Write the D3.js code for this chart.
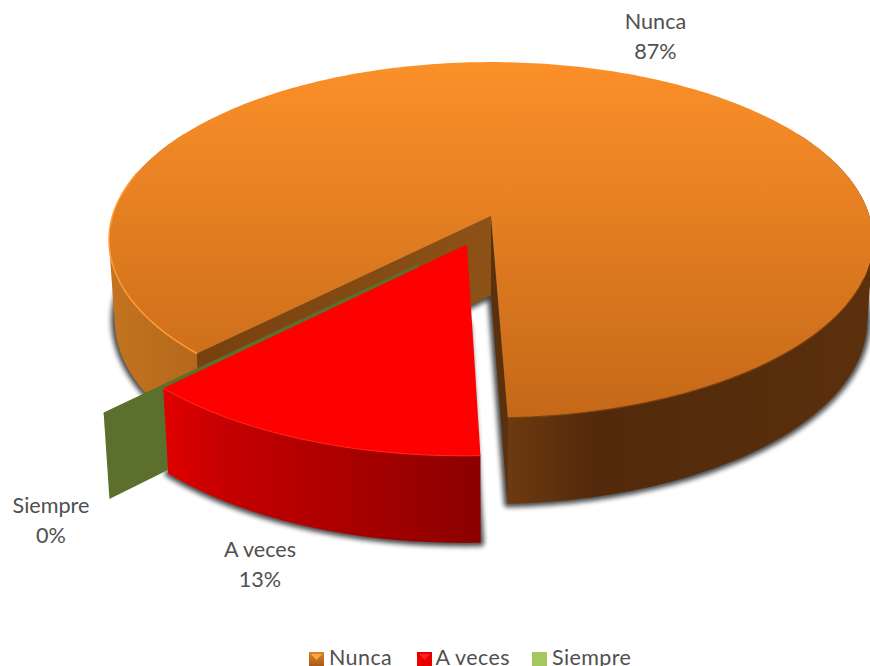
<!DOCTYPE html>
<html>
<head>
<meta charset="utf-8">
<script src="https://d3js.org/d3.v7.min.js"></script>
<style>
  html, body { margin: 0; padding: 0; background: #fff; overflow: hidden; }
  text { font-family: Lato, "Open Sans", sans-serif; fill: #505050; }
</style>
</head>
<body>
<div id="chart"></div>
<script>
const categories = ["Nunca", "A veces", "Siempre"];
const values = [87, 13, 0];
const percentLabels = ["87%", "13%", "0%"];

const width = 870, height = 666;
const deg = Math.PI / 180;

// perspective model of the disc, apex of the pie is the origin
const apex = { x: 491, y: 216 };
const Rx = 378.5, Ry = 174.7, persp = 0.135;

function project(u, v, z) {
  const k = 1 / (1 - persp * v);
  const s = 1 - 0.015 * z;
  return [apex.x + Rx * u * k * s, apex.y + Ry * v * k + z * (79 + 7 * v)];
}

const svg = d3.select("#chart").append("svg")
  .attr("width", width).attr("height", height)
  .style("display", "block");

const defs = svg.append("defs");

function gradient(id, x1, y1, x2, y2, stops) {
  const g = defs.append("linearGradient").attr("id", id)
    .attr("gradientUnits", "userSpaceOnUse")
    .attr("x1", x1).attr("y1", y1).attr("x2", x2).attr("y2", y2);
  stops.forEach(s => g.append("stop").attr("offset", s[0]).attr("stop-color", s[1]));
}

gradient("nuncaTop", 0, 62, 0, 420, [[0, "#fc9029"], [1, "#c46818"]]);
gradient("nuncaSide", 108, 0, 870, 0, [[0, "#c2741f"], [0.12, "#b5681c"], [0.52, "#6f3a10"], [0.64, "#522a0b"], [1, "#5a300d"]]);
gradient("nuncaWall", 198, 0, 491, 0, [[0, "#78400f"], [1, "#8c5217"]]);
gradient("redSide", 164, 0, 480, 0, [[0, "#e00000"], [0.2, "#c40000"], [1, "#8c0000"]]);

defs.append("filter").attr("id", "shadow")
  .attr("x", "-10%").attr("y", "-10%").attr("width", "120%").attr("height", "125%")
  .append("feGaussianBlur").attr("stdDeviation", 2.5);
defs.append("filter").attr("id", "soft").append("feGaussianBlur").attr("stdDeviation", 0.5);

const pie = d3.pie().sort(null)
  .startAngle(224.6 * deg).endAngle(584.6 * deg);
const slices = pie(values);

const line = d3.line();
const rimPt = (a, off, z) => project(Math.sin(a) + off[0], -Math.cos(a) + off[1], z);
const rimAngles = (a0, a1) => {
  const n = Math.max(2, Math.ceil(Math.abs(a1 - a0) / deg));
  return d3.range(n + 1).map(i => a0 + (a1 - a0) * i / n);
};
const sectorPath = (s, off, z) => line(
  [project(off[0], off[1], z)].concat(rimAngles(s.startAngle, s.endAngle).map(a => rimPt(a, off, z)))) + "Z";
const sidePath = (a0, a1, off) => line(d3.polygonHull(
  rimAngles(a0, a1).flatMap(a => [rimPt(a, off, 0), rimPt(a, off, 1)]))) + "Z";
const wallPath = (a, off) => line([
  project(off[0], off[1], 0), rimPt(a, off, 0), rimPt(a, off, 1), project(off[0], off[1], 1)
]) + "Z";
const rimPath = (a0, a1, off) => line(rimAngles(a0, a1).map(a => rimPt(a, off, 0)));

// explosion of each slice, in disc units
const offsets = [[0, 0], [-0.062, 0.158], [-0.186, 0.267]];

const nunca = slices[0], aVeces = slices[1], siempre = slices[2];

// the shadows are the blurred floor of the two slices, under everything else
svg.append("g").selectAll("path").data([nunca, aVeces]).join("path")
  .attr("d", (d, i) => sectorPath(d, offsets[i], 1))
  .attr("fill", "#000").attr("stroke", "#000").attr("stroke-width", 7)
  .attr("stroke-linejoin", "round").attr("opacity", 0.72)
  .attr("filter", "url(#shadow)");

// Nunca: the side in two pieces, left and right of the back of the disc
const gN = svg.append("g");
gN.append("path").attr("d", sidePath(nunca.startAngle, 300 * deg, offsets[0])).attr("fill", "url(#nuncaSide)");
gN.append("path").attr("d", sidePath(nunca.endAngle, 420 * deg, offsets[0])).attr("fill", "url(#nuncaSide)");
gN.append("path").attr("d", wallPath(nunca.endAngle, offsets[0])).attr("fill", "#5a300d");
gN.append("path").attr("d", wallPath(nunca.startAngle, offsets[0])).attr("fill", "url(#nuncaWall)");
gN.append("path").attr("d", sectorPath(nunca, offsets[0], 0)).attr("fill", "url(#nuncaTop)");
gN.append("path").attr("d", rimPath(nunca.startAngle, 285 * deg, offsets[0]))
  .attr("fill", "none").attr("stroke", "#ff9c38").attr("stroke-width", 1.5);
gN.append("path").attr("d", rimPath(nunca.endAngle, 470 * deg, offsets[0]))
  .attr("fill", "none").attr("stroke", "#7a420f").attr("stroke-width", 1.2)
  .attr("filter", "url(#soft)");

// Siempre, no width so only its cut face shows
const gS = svg.append("g");
gS.append("path").attr("d", wallPath(siempre.startAngle, offsets[2])).attr("fill", "#5b702c");
gS.append("path").attr("d", line([project(offsets[2][0], offsets[2][1], 0), rimPt(siempre.startAngle, offsets[2], 0)]))
  .attr("fill", "none").attr("stroke", "#5b702c").attr("stroke-width", 1);

// A veces
const gA = svg.append("g");
gA.append("path").attr("d", sidePath(aVeces.startAngle, aVeces.endAngle, offsets[1])).attr("fill", "url(#redSide)");
gA.append("path").attr("d", sectorPath(aVeces, offsets[1], 0)).attr("fill", "#ff0000");
gA.append("path").attr("d", rimPath(aVeces.startAngle, aVeces.endAngle, offsets[1]))
  .attr("fill", "none").attr("stroke", "#ff2a1a").attr("stroke-width", 1);

// data labels
const labelX = [655.5, 260, 51];
const labelY = [29, 557, 513];
svg.append("g").selectAll("g").data(categories).join("g")
  .each(function (d, i) {
    const g = d3.select(this);
    g.append("text").attr("x", labelX[i]).attr("y", labelY[i])
      .attr("text-anchor", "middle").attr("font-size", 21.6).text(d);
    g.append("text").attr("x", labelX[i]).attr("y", labelY[i] + 30)
      .attr("text-anchor", "middle").attr("font-size", 21.6).text(percentLabels[i]);
  });

// legend
const legendX = [309, 417, 532];
const legendTextX = [20, 18.5, 20];
const legN = defs.append("linearGradient").attr("id", "legN").attr("x1", 0).attr("y1", 0).attr("x2", 0).attr("y2", 1);
legN.append("stop").attr("offset", 0).attr("stop-color", "#d98428");
legN.append("stop").attr("offset", 1).attr("stop-color", "#a85c18");
const legendFill = ["url(#legN)", "#e60000", "#a5c95f"];
const triFill = ["#ffa63d", "#ff2020", null];

const legend = svg.append("g").selectAll("g").data(categories).join("g")
  .attr("transform", (d, i) => `translate(${legendX[i]},652)`);
legend.append("rect").attr("width", 15).attr("height", 14)
  .attr("fill", (d, i) => legendFill[i]);
legend.filter((d, i) => triFill[i] !== null).append("path")
  .attr("d", line([[2, 2], [13, 2], [7.5, 8]]) + "Z")
  .attr("fill", d => triFill[categories.indexOf(d)]);
legend.append("text").attr("x", (d, i) => legendTextX[i]).attr("y", 13)
  .attr("font-size", 21.5).attr("letter-spacing", 0.4).text(d => d);
</script>
</body>
</html>
